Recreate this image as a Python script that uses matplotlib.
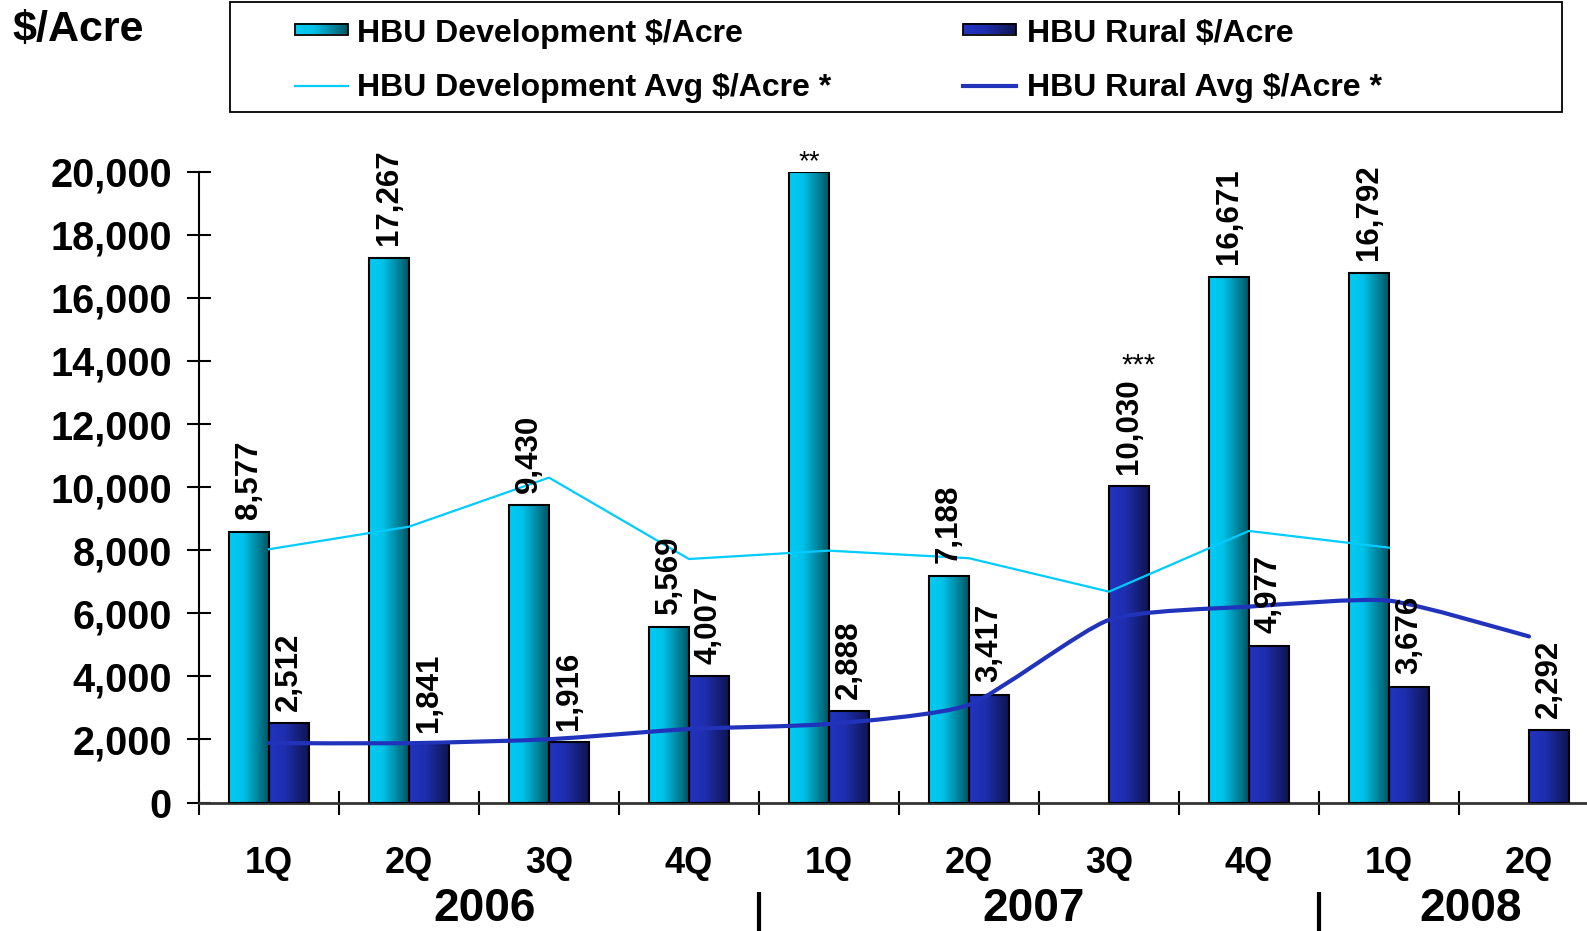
import numpy as np
import matplotlib
matplotlib.use("Agg")
import matplotlib.pyplot as plt
from matplotlib.colors import LinearSegmentedColormap
from matplotlib.patches import Rectangle, PathPatch
from matplotlib.path import Path
from matplotlib.ticker import FuncFormatter, FixedLocator
import matplotlib.transforms as mtransforms

plt.rcParams['font.family'] = ['Liberation Sans', 'DejaVu Sans']

# ---------------- data ----------------
quarters = ["1Q", "2Q", "3Q", "4Q", "1Q", "2Q", "3Q", "4Q", "1Q", "2Q"]
years = ["2006", "2007", "2008"]
dev_values = [8577, 17267, 9430, 5569, 20000, 7188, np.nan, 16671, 16792, np.nan]
rural_values = [2512, 1841, 1916, 4007, 2888, 3417, 10030, 4977, 3676, 2292]
dev_avg = [8030, 8745, 10300, 7720, 7985, 7745, 6685, 8610, 8080]
rural_avg = [1885, 1880, 2005, 2330, 2490, 3100, 5790, 6210, 6400, 5265]
dev_labels = ["8,577", "17,267", "9,430", "5,569", "", "7,188", "", "16,671", "16,792", ""]
rural_labels = ["2,512", "1,841", "1,916", "4,007", "2,888", "3,417", "10,030", "4,977", "3,676", "2,292"]
legend_labels = ["HBU Development $/Acre", "HBU Rural $/Acre",
                 "HBU Development Avg $/Acre *", "HBU Rural Avg $/Acre *"]

W, H = 1587, 931
fig = plt.figure(figsize=(W / 100, H / 100), dpi=100)
ax = fig.add_axes([199 / W, (H - 802.5) / H, 1400 / W, 630.8 / H])

dev_cmap = LinearSegmentedColormap.from_list(
    "dev", [(0, "#00CCF5"), (0.35, "#00C2E8"), (1, "#005563")])
rural_cmap = LinearSegmentedColormap.from_list(
    "rur", [(0, "#2233C2"), (0.4, "#1E2EAE"), (1, "#0F154F")])
grad = np.linspace(0, 1, 256).reshape(1, -1)

w = 0.285
x = np.arange(len(quarters))


def grad_bars(xs, vals, cmap):
    xs = np.asarray(xs, float)
    vals = np.asarray(vals, float)
    m = ~np.isnan(vals)
    bars = ax.bar(xs[m], vals[m], width=w, facecolor="none",
                  edgecolor="black", linewidth=1.5, zorder=3)
    for b in bars:
        x0, y0 = b.get_x(), b.get_y()
        ax.imshow(grad, cmap=cmap, extent=(x0, x0 + b.get_width(), y0, y0 + b.get_height()),
                  aspect="auto", zorder=2, interpolation="bilinear")
    return bars


grad_bars(x - w / 2, dev_values, dev_cmap)
grad_bars(x + w / 2, rural_values, rural_cmap)

# development average line (straight)
ax.plot(x[:len(dev_avg)], dev_avg, color="#00CCFF", lw=1.6, zorder=4)

# rural average line (lightly smoothed)
P = np.column_stack([x[:len(rural_avg)], rural_avg]).astype(float)
n = len(P)
k = 1 / 10
verts = [P[0]]
codes = [Path.MOVETO]
for i in range(n - 1):
    pm = P[i - 1] if i > 0 else P[i]
    p2 = P[i + 2] if i + 2 < n else P[i + 1]
    c1 = P[i] + (P[i + 1] - pm) * k
    c2 = P[i + 1] - (p2 - P[i]) * k
    verts += [c1, c2, P[i + 1]]
    codes += [Path.CURVE4] * 3
ax.add_patch(PathPatch(Path(verts, codes), facecolor="none", edgecolor="#2233BB",
                       lw=3.0, zorder=4, capstyle="round", joinstyle="round"))

# value labels
lab_kw = dict(rotation=90, ha="center", va="bottom", fontsize=22.5,
              fontweight="bold", textcoords="offset points", zorder=6)
for i, (v, t) in enumerate(zip(dev_values, dev_labels)):
    if t:
        ax.annotate(t, xy=(x[i] - w / 2, v), xytext=(0, 9), **lab_kw)
for i, (v, t) in enumerate(zip(rural_values, rural_labels)):
    ax.annotate(t, xy=(x[i] + w / 2, v), xytext=(0, 9), **lab_kw)

# footnote marks
ax.annotate("**", xy=(x[4] - w / 2, dev_values[4]), xytext=(0, 2),
            textcoords="offset points", ha="center", va="baseline",
            fontsize=20, zorder=6)
ax.annotate("***", xy=(x[6] + w / 2, 13330), xytext=(7, 6),
            textcoords="offset points", ha="center", va="baseline",
            fontsize=21, zorder=6)

# axes styling
ax.set_xlim(-0.5, 9.5)
ax.set_ylim(0, 20000)
for s in ("top", "right"):
    ax.spines[s].set_visible(False)
ax.spines["left"].set_linewidth(1.5)
ax.spines["bottom"].set_linewidth(2.0)
ax.spines["bottom"].set_color("#333333")

ax.yaxis.set_major_locator(FixedLocator(np.arange(0, 20001, 2000)))
ax.yaxis.set_major_formatter(FuncFormatter(lambda v, p: f"{int(v):,}"))
ax.tick_params(axis="y", direction="inout", length=17, width=1.5, pad=11,
               labelsize=28.5)
for lab in ax.get_yticklabels():
    lab.set_fontweight("bold")

ax.xaxis.set_major_locator(FixedLocator(np.arange(-0.5, 10, 1.0)))
ax.xaxis.set_minor_locator(FixedLocator(x))
ax.xaxis.set_major_formatter(FuncFormatter(lambda v, p: ""))
ax.set_xticks(x, quarters, minor=True)
ax.tick_params(axis="x", which="major", direction="inout", length=17, width=1.5)
ax.tick_params(axis="x", which="minor", length=0, pad=31, labelsize=26)
for lab in ax.get_xticklabels(minor=True):
    lab.set_fontweight("bold")

# year labels and separators
year_x = [1.54, 5.46, 8.58]
for yx, yt in zip(year_x, years):
    ax.annotate(yt, xy=(yx, 0), xycoords=("data", "axes fraction"),
                xytext=(0, -85.5), textcoords="offset points",
                ha="center", va="baseline", fontsize=33, fontweight="bold",
                annotation_clip=False)
trans = mtransforms.blended_transform_factory(ax.transData, ax.transAxes)
for sx in (3.5, 7.5):
    ax.plot([sx, sx], [(802.5 - 892) / 630.8, (802.5 - 935) / 630.8],
            transform=trans, color="black", lw=3.0, clip_on=False,
            solid_capstyle="butt")

# ---------------- overlay: title + legend ----------------
lax = fig.add_axes([0, 0, 1, 1], zorder=10)
lax.set_xlim(0, W)
lax.set_ylim(H, 0)
lax.axis("off")
lax.patch.set_alpha(0)

lax.text(12, 41, "$/Acre", fontsize=31, fontweight="bold", ha="left", va="baseline")

lax.add_patch(Rectangle((230, 2), 1332, 109.5, facecolor="white",
                        edgecolor="black", lw=1.3, zorder=1))
# bar handles
for (hx, cmap) in ((295, dev_cmap), (963, rural_cmap)):
    lax.imshow(grad, cmap=cmap, extent=(hx, hx + 53, 34.5, 23.5),
               aspect="auto", zorder=2, interpolation="bilinear")
    lax.add_patch(Rectangle((hx, 23.5), 53, 11, facecolor="none",
                            edgecolor="black", lw=1.3, zorder=3))
lax.plot([295, 348], [86, 86], color="#00CCFF", lw=1.6, zorder=3)
lax.plot([963, 1016], [86, 86], color="#2233BB", lw=3.0, zorder=3)
lax.set_xlim(0, W)
lax.set_ylim(H, 0)

leg_pos = [(357, 42), (1027, 42), (357, 96), (1027, 96)]
for (tx, ty), t in zip(leg_pos, legend_labels):
    lax.text(tx, ty, t, fontsize=23, fontweight="bold", ha="left",
             va="baseline", zorder=4)

fig.savefig("out.png", dpi=100)
